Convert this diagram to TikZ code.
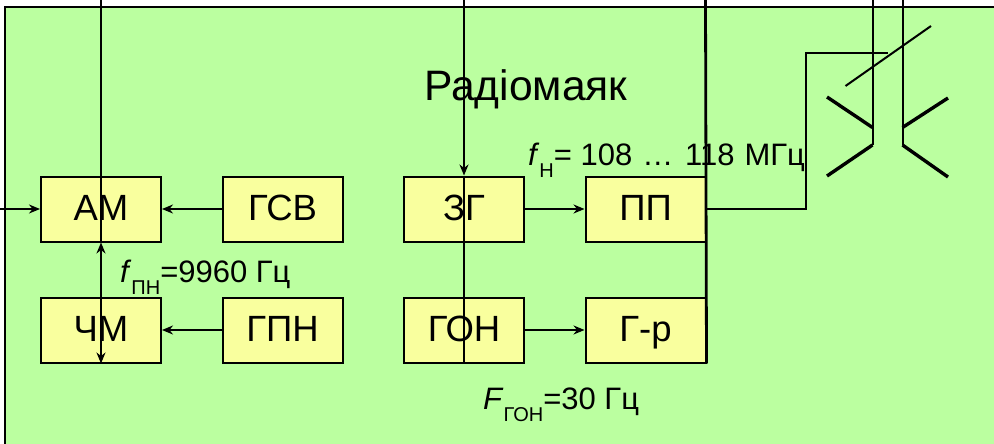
\documentclass[tikz,border=0pt]{standalone}
\usepackage{fontspec}
\setmainfont{Liberation Sans}
\usetikzlibrary{arrows.meta}
\definecolor{fieldgreen}{HTML}{BBFFA0}
\definecolor{boxyellow}{HTML}{F9FF9E}
\newcommand{\lowtext}[1]{\raisebox{-12pt}{\fontsize{20}{22}\selectfont #1}}
\tikzset{
  block/.style={draw,line width=2pt,fill=boxyellow,minimum width=120pt,minimum height=65pt,inner sep=0pt,text height=26pt,text depth=3pt,font=\fontsize{36.5}{40}\selectfont},
  note/.style={anchor=base west,inner sep=0pt,font=\fontsize{31}{34}\selectfont},
  link/.style={line width=1.7pt,-{Stealth[length=11pt,width=9pt,inset=3.5pt]}},
  feeder/.style={line width=2.8pt},
  wire/.style={line width=2pt},
  dipole/.style={line width=3.4pt}
}
\begin{document}
\begin{tikzpicture}[x=1pt,y=-1pt]
  \useasboundingbox (0,0) rectangle (994,444);
  % Field
  \draw[fill=fieldgreen,line width=2pt] (4.5,7) rectangle (1010,460);

  % Blocks
  \node[block] (am) at (101,209) {АМ};
  \node[block] (gsv) at (282.5,209) {ГСВ};
  \node[block] (chm) at (101,330) {ЧМ};
  \node[block] (gpn) at (282.5,330) {ГПН};
  \node[block] (zg) at (464,209) {ЗГ};
  \node[block] (pp) at (645.5,209) {ПП};
  \node[block] (gon) at (464,330) {ГОН};
  \node[block] (gr) at (645.5,330) {Г-р};

  % Labels
  \node[anchor=base west,inner sep=0pt,font=\fontsize{42.6}{46}\selectfont] (title) at (424,101) {Радіомаяк};
  \node[note] (fpn) at (120,282) {\textit{f}\lowtext{ПН}=9960 Гц};
  \node[note] (fn) at (528,165) {\textit{f}\lowtext{Н}= 108\hspace{1.5pt} …\hspace{3pt} 118 \hspace{1.5pt}МГц};
  \node[note] (fgon) at (483,409) {\textit{F}\lowtext{ГОН}=30 Гц};

  % Free ends
  \coordinate (in) at (0,209);
  \coordinate (topa) at (101,0);
  \coordinate (topz) at (464,0);
  \coordinate (topp) at (705.5,0);
  \coordinate (topl) at (872.5,0);
  \coordinate (topr) at (902.5,0);
  \coordinate (bendl) at (806,209);
  \coordinate (bendu) at (806,53.5);
  \coordinate (feed) at (888,53.5);
  \coordinate (footl) at (872.5,145);
  \coordinate (footr) at (902.5,145);

  % Signal paths
  \draw[link] (in) -- (am.west);
  \draw[link] (gsv.west) -- (am.east);
  \draw[link] (gpn.west) -- (chm.east);
  \draw[link] (zg.east) -- (pp.west);
  \draw[link] (gon.east) -- (gr.west);
  \draw[feeder] (topa) -- (am.south);
  \draw[link,{Stealth[length=11pt,width=9pt,inset=3.5pt]}-{Stealth[length=11pt,width=9pt,inset=3.5pt]}] (am.south) -- (chm.south);
  \draw[link,line width=1.9pt] (topz) -- (zg.north);
  \draw[wire] (zg.north) -- (gon.south);
  \draw[feeder] (topp) -- (gr.south east);

  % Antenna
  \draw[wire] (pp.east) -- (bendl) -- (bendu) -- (feed);
  \draw[wire] (topl) -- (footl);
  \draw[wire] (topr) -- (footr);
  \draw[dipole] (footl) -- (827,176);
  \draw[dipole] (872.5,127.5) -- (827,97);
  \draw[dipole] (902.5,127.5) -- (948,98);
  \draw[dipole] (footr) -- (948,177);
  \draw[wire] (845.5,86) -- (931,26);
\end{tikzpicture}
\end{document}
